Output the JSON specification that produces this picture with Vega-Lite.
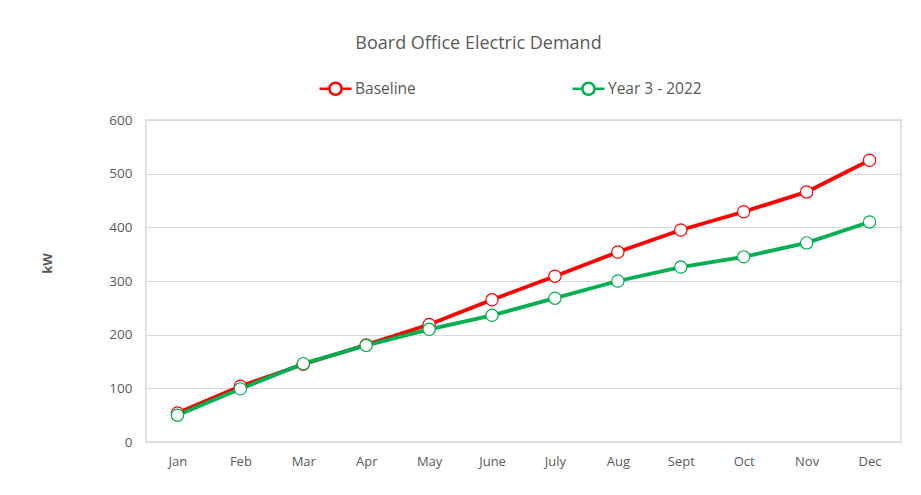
{
  "$schema": "https://vega.github.io/schema/vega-lite/v6.json",
  "autosize": "none",
  "width": 755,
  "height": 322,
  "padding": {"left": 146, "top": 120, "right": 20, "bottom": 53},
  "background": "white",
  "title": {
    "text": "Board Office Electric Demand",
    "fontSize": 18,
    "font": "Open Sans",
    "fontWeight": "normal",
    "color": "#595959",
    "anchor": "middle",
    "dx": -45,
    "offset": 18
  },
  "data": {
    "values": [
      {"month": "Jan", "series": "Baseline", "kW": 54},
      {"month": "Feb", "series": "Baseline", "kW": 104},
      {"month": "Mar", "series": "Baseline", "kW": 145},
      {"month": "Apr", "series": "Baseline", "kW": 181},
      {"month": "May", "series": "Baseline", "kW": 219},
      {"month": "June", "series": "Baseline", "kW": 265},
      {"month": "July", "series": "Baseline", "kW": 309},
      {"month": "Aug", "series": "Baseline", "kW": 354},
      {"month": "Sept", "series": "Baseline", "kW": 395},
      {"month": "Oct", "series": "Baseline", "kW": 429},
      {"month": "Nov", "series": "Baseline", "kW": 466},
      {"month": "Dec", "series": "Baseline", "kW": 525},
      {"month": "Jan", "series": "Year 3 - 2022", "kW": 50},
      {"month": "Feb", "series": "Year 3 - 2022", "kW": 99},
      {"month": "Mar", "series": "Year 3 - 2022", "kW": 146},
      {"month": "Apr", "series": "Year 3 - 2022", "kW": 180},
      {"month": "May", "series": "Year 3 - 2022", "kW": 210},
      {"month": "June", "series": "Year 3 - 2022", "kW": 236},
      {"month": "July", "series": "Year 3 - 2022", "kW": 268},
      {"month": "Aug", "series": "Year 3 - 2022", "kW": 300},
      {"month": "Sept", "series": "Year 3 - 2022", "kW": 326},
      {"month": "Oct", "series": "Year 3 - 2022", "kW": 345},
      {"month": "Nov", "series": "Year 3 - 2022", "kW": 371},
      {"month": "Dec", "series": "Year 3 - 2022", "kW": 410}
    ]
  },
  "encoding": {
    "x": {
      "field": "month",
      "type": "ordinal",
      "sort": null,
      "scale": {"type": "point", "padding": 0.5},
      "axis": {
        "title": null,
        "labelAngle": 0,
        "labelFont": "Open Sans",
        "labelFontSize": 13,
        "labelColor": "#595959",
        "labelPadding": 13,
        "ticks": false,
        "domain": false,
        "grid": false
      }
    },
    "y": {
      "field": "kW",
      "type": "quantitative",
      "scale": {"domain": [0, 600], "nice": false},
      "axis": {
        "title": "kW",
        "titleFont": "Open Sans",
        "titleFontSize": 13,
        "titleFontWeight": "bold",
        "titleColor": "#595959",
        "titleAngle": -90,
        "titleX": -99,
        "titleY": 143,
        "titleAlign": "center",
        "titleBaseline": "middle",
        "values": [0, 100, 200, 300, 400, 500, 600],
        "labelFont": "Open Sans",
        "labelFontSize": 13.5,
        "labelColor": "#595959",
        "labelPadding": 14,
        "ticks": false,
        "domain": false,
        "grid": true,
        "gridColor": "#d9d9d9",
        "gridWidth": 1
      }
    },
    "color": {
      "field": "series",
      "type": "nominal",
      "scale": {"domain": ["Baseline", "Year 3 - 2022"], "range": ["#ff0000", "#00b050"]},
      "legend": {
        "title": null,
        "orient": "none",
        "legendX": 172,
        "legendY": -49,
        "direction": "horizontal",
        "columns": 2,
        "gridAlign": "all",
        "columnPadding": 118,
        "symbolType": "M-1,0L-0.4,0M0.4,0L1,0M-0.38,0A0.38,0.38 0 1,1 0.38,0A0.38,0.38 0 1,1 -0.38,0",
        "symbolSize": 1024,
        "symbolFillColor": "white",
        "symbolStrokeWidth": 2.5,
        "symbolOpacity": 1,
        "labelFont": "Open Sans",
        "labelFontSize": 15.5,
        "labelColor": "#595959",
        "labelOffset": 2
      }
    }
  },
  "layer": [
    {"mark": {"type": "line", "strokeWidth": 3.8}},
    {"mark": {"type": "point", "filled": false, "fill": "white", "fillOpacity": 1, "opacity": 1, "size": 150, "strokeWidth": 1.2, "shape": "circle"}}
  ],
  "config": {
    "view": {"stroke": "#d9d9d9", "strokeWidth": 1.5}
  }
}
